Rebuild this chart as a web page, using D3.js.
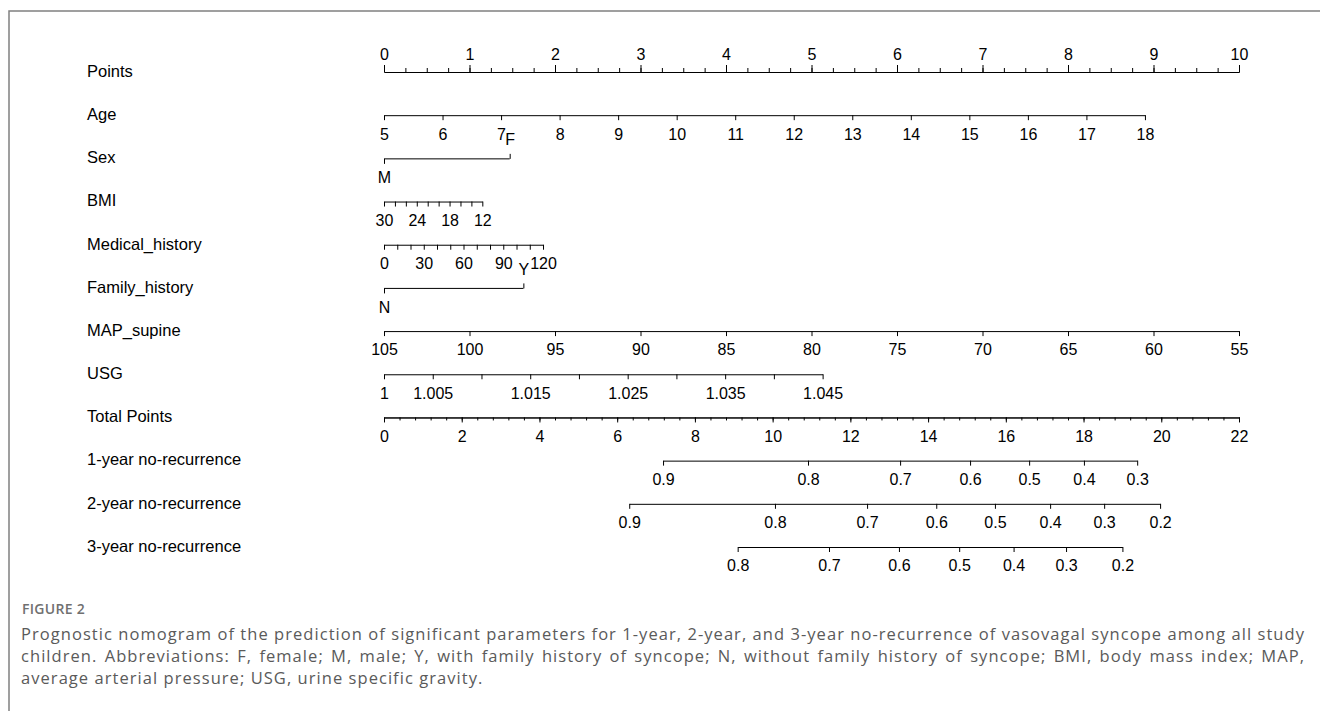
<!DOCTYPE html>
<html>
<head>
<meta charset="utf-8">
<script src="https://cdn.jsdelivr.net/npm/d3@7"></script>
<style>
  body { margin: 0; background: #fff; }
  svg { display: block; }
</style>
</head>
<body>
<svg id="canvas" width="1320" height="711"></svg>
<script>
// row names of the nomogram
let rowLabels = ["Points", "Age", "Sex", "BMI", "Medical_history", "Family_history",
  "MAP_supine", "USG", "Total Points", "1-year no-recurrence",
  "2-year no-recurrence", "3-year no-recurrence"];

// points scale
let pointsMajor = [0, 1, 2, 3, 4, 5, 6, 7, 8, 9, 10];

// predictors: value range -> points range
let ageRange = [5, 18], agePoints = [0, 8.9];
let ageTicks = [5, 6, 7, 8, 9, 10, 11, 12, 13, 14, 15, 16, 17, 18];

let sexLevels = ["M", "F"], sexPoints = [0, 1.47];

let bmiRange = [30, 12], bmiPoints = [0, 1.15];
let bmiTicks = [30, 28, 26, 24, 22, 20, 18, 16, 14, 12];
let bmiLabels = [30, 24, 18, 12];

let medRange = [0, 120], medPoints = [0, 1.86];
let medTicks = [0, 10, 20, 30, 40, 50, 60, 70, 80, 90, 100, 110, 120];
let medLabels = [0, 30, 60, 90, 120];

let famLevels = ["N", "Y"], famPoints = [0, 1.63];

let mapRange = [105, 55], mapPoints = [0, 10];
let mapTicks = [105, 100, 95, 90, 85, 80, 75, 70, 65, 60, 55];

let usgRange = [1, 1.045], usgPoints = [0, 5.13];
let usgTicks = [1, 1.005, 1.01, 1.015, 1.02, 1.025, 1.03, 1.035, 1.04, 1.045];
let usgLabels = [1, 1.005, 1.015, 1.025, 1.035, 1.045];

// total points scale
let totalMax = 22;
let totalMajor = [0, 2, 4, 6, 8, 10, 12, 14, 16, 18, 20, 22];

// probabilities of no recurrence and their total points
let prob1 = [0.9, 0.8, 0.7, 0.6, 0.5, 0.4, 0.3];
let total1 = [7.18, 10.91, 13.28, 15.08, 16.60, 18.01, 19.38];
let prob2 = [0.9, 0.8, 0.7, 0.6, 0.5, 0.4, 0.3, 0.2];
let total2 = [6.31, 10.06, 12.43, 14.21, 15.72, 17.14, 18.53, 19.97];
let prob3 = [0.8, 0.7, 0.6, 0.5, 0.4, 0.3, 0.2];
let total3 = [9.10, 11.45, 13.25, 14.80, 16.20, 17.55, 19.00];

let captionTitle = "FIGURE 2";
let captionLines = [
  "Prognostic nomogram of the prediction of significant parameters for 1-year, 2-year, and 3-year no-recurrence of vasovagal syncope among all study",
  "children. Abbreviations: F, female; M, male; Y, with family history of syncope; N, without family history of syncope; BMI, body mass index; MAP,",
  "average arterial pressure; USG, urine specific gravity."
];

let canvas = d3.select("#canvas");
let font = "'Liberation Sans', Arial, sans-serif";
let fontSize = 16;

// frame
canvas.append("path")
  .attr("d", "M9,711 V11 H1320")
  .attr("fill", "none")
  .attr("stroke", "#808080")
  .attr("stroke-width", 1.5);

let xPoints = d3.scaleLinear().domain([0, 10]).range([384, 1239]);
let xTotal = d3.scaleLinear().domain([0, totalMax]).range([384, 1239]);
let rowY = d3.scalePoint().domain(rowLabels).range([72, 547]);

// row labels
canvas.append("g")
  .selectAll("text")
  .data(rowLabels)
  .enter()
  .append("text")
  .attr("x", 87)
  .attr("y", (d) => rowY(d) - 1)
  .attr("dy", "0.35em")
  .attr("font-family", font)
  .attr("font-size", 16.5)
  .text((d) => d);

let styleAxis = (g) => {
  g.attr("font-family", font).attr("font-size", fontSize);
  g.selectAll("path.domain").attr("stroke", "#000");
  g.selectAll("line").attr("stroke", "#000");
  g.selectAll("text").attr("fill", "#000");
};

let hasLabel = (labels, d) => labels.some((l) => Math.abs(l - d) < 1e-9);

// Points axis, ticks up
let pointsMinor = d3.range(0, 10.001, 0.25);
canvas.append("g")
  .attr("transform", `translate(0,${rowY("Points")})`)
  .call(d3.axisTop(xPoints).tickValues(pointsMinor).tickSize(4).tickSizeOuter(0).tickFormat(""))
  .call(styleAxis);
canvas.append("g")
  .attr("transform", `translate(0,${rowY("Points")})`)
  .call(d3.axisTop(xPoints).tickValues(pointsMajor).tickSize(7).tickSizeOuter(0).tickPadding(5))
  .call(styleAxis);

// continuous predictors
let drawContinuous = (row, range, pts, ticks, labels, fmt) => {
  let x = d3.scaleLinear().domain(range).range(pts.map(xPoints));
  canvas.append("g")
    .attr("transform", `translate(0,${rowY(row)})`)
    .call(d3.axisBottom(x).tickValues(ticks).tickSize(5).tickSizeOuter(0).tickPadding(8)
      .tickFormat((d) => hasLabel(labels, d) ? fmt(d) : ""))
    .call(styleAxis);
};

drawContinuous("Age", ageRange, agePoints, ageTicks, ageTicks, d3.format("d"));
drawContinuous("BMI", bmiRange, bmiPoints, bmiTicks, bmiLabels, d3.format("d"));
drawContinuous("Medical_history", medRange, medPoints, medTicks, medLabels, d3.format("d"));
drawContinuous("MAP_supine", mapRange, mapPoints, mapTicks, mapTicks, d3.format("d"));
drawContinuous("USG", usgRange, usgPoints, usgTicks, usgLabels, (d) => String(+d.toFixed(3)));

// categorical predictors: first level below, second level above
let drawCategorical = (row, levels, pts) => {
  let g = canvas.append("g").attr("transform", `translate(0,${rowY(row)})`);
  g.append("line")
    .attr("x1", xPoints(pts[0])).attr("x2", xPoints(pts[1]))
    .attr("y1", 0.5).attr("y2", 0.5)
    .attr("stroke", "#000");
  let items = levels.map((l, i) => ({ level: l, x: xPoints(pts[i]), dir: i === 0 ? 1 : -1 }));
  g.selectAll("line.tick")
    .data(items)
    .enter()
    .append("line")
    .attr("class", "tick")
    .attr("x1", (d) => d.x + 0.5).attr("x2", (d) => d.x + 0.5)
    .attr("y1", 0.5).attr("y2", (d) => 0.5 + d.dir * 5)
    .attr("stroke", "#000");
  g.selectAll("text")
    .data(items)
    .enter()
    .append("text")
    .attr("x", (d) => d.x + 0.5)
    .attr("y", (d) => d.dir * 19)
    .attr("dy", "0.35em")
    .attr("text-anchor", "middle")
    .attr("font-family", font)
    .attr("font-size", fontSize)
    .text((d) => d.level);
};

drawCategorical("Sex", sexLevels, sexPoints);
drawCategorical("Family_history", famLevels, famPoints);

// Total points axis
let totalMinor = d3.range(0, totalMax + 0.001, 0.4);
canvas.append("g")
  .attr("transform", `translate(0,${rowY("Total Points")})`)
  .call(d3.axisBottom(xTotal).tickValues(totalMinor).tickSize(3).tickSizeOuter(0).tickFormat(""))
  .call(styleAxis);
canvas.append("g")
  .attr("transform", `translate(0,${rowY("Total Points")})`)
  .call(d3.axisBottom(xTotal).tickValues(totalMajor).tickSize(5).tickSizeOuter(0).tickPadding(8))
  .call(styleAxis);

// probability axes
let drawProb = (row, probs, totals) => {
  let x = d3.scaleLinear().domain(probs).range(totals.map(xTotal));
  canvas.append("g")
    .attr("transform", `translate(0,${rowY(row)})`)
    .call(d3.axisBottom(x).tickValues(probs).tickSize(5).tickSizeOuter(0).tickPadding(8)
      .tickFormat(d3.format(".1f")))
    .call(styleAxis);
};

drawProb("1-year no-recurrence", prob1, total1);
drawProb("2-year no-recurrence", prob2, total2);
drawProb("3-year no-recurrence", prob3, total3);

// caption
let capFont = "'Open Sans', 'Noto Sans', sans-serif";
canvas.append("text")
  .attr("x", 22)
  .attr("y", 614)
  .attr("font-family", capFont)
  .attr("font-size", 14)
  .attr("font-weight", 600)
  .attr("letter-spacing", 0.3)
  .attr("fill", "#707070")
  .text(captionTitle);

let capX = 21, capRight = 1305;
let capText = canvas.append("g")
  .selectAll("text")
  .data(captionLines)
  .enter()
  .append("text")
  .attr("x", capX)
  .attr("y", (d, i) => 640 + i * 22)
  .attr("font-family", capFont)
  .attr("font-size", 16.5)
  .attr("fill", "#5a5a5a")
  .text((d) => d);

// tracking taken from the first line, then word gaps justify the full lines
let firstNode = capText.nodes()[0];
let tracking = (capRight - capX - firstNode.getComputedTextLength()) / captionLines[0].length;
capText.attr("letter-spacing", tracking);
capText.each(function (d, i) {
  if (i === captionLines.length - 1) return;
  let natural = this.getComputedTextLength();
  let gaps = d.split(" ").length - 1;
  d3.select(this).attr("word-spacing", (capRight - capX - natural) / gaps);
});
</script>
</body>
</html>
